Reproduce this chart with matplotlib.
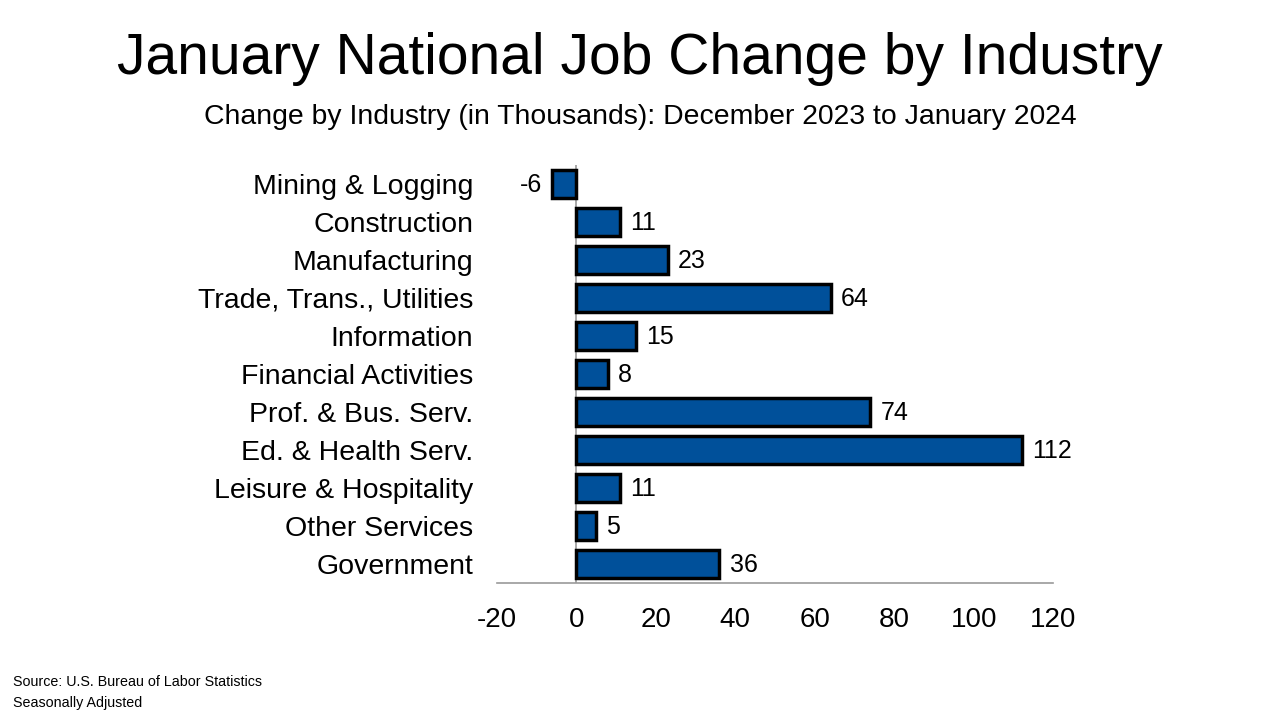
import matplotlib

matplotlib.use("Agg")

import matplotlib.pyplot as plt

industries = [
    "Mining & Logging",
    "Construction",
    "Manufacturing",
    "Trade, Trans., Utilities",
    "Information",
    "Financial Activities",
    "Prof. & Bus. Serv.",
    "Ed. & Health Serv.",
    "Leisure & Hospitality",
    "Other Services",
    "Government",
]
changes = [-6, 11, 23, 64, 15, 8, 74, 112, 11, 5, 36]
x_ticks = [-20, 0, 20, 40, 60, 80, 100, 120]

plt.rcParams["font.family"] = ["Liberation Sans", "DejaVu Sans"]

fig = plt.figure(figsize=(12.8, 7.2), dpi=100)
ax = fig.add_axes([0.388, 0.190, 0.435, 0.581])

y = list(range(len(industries)))
ax.barh(y, changes, height=0.75, color="#00509A", edgecolor="black", linewidth=2.5, zorder=3)
ax.axvline(0, color="#9a9a9a", linewidth=1.2, zorder=2)

# value labels beside each bar
for yi, v in zip(y, changes):
    if v < 0:
        ax.text(v - 2.6, yi + 0.03, f"{v}", ha="right", va="center", fontsize=18)
    else:
        ax.text(v + 2.6, yi + 0.03, f"{v}", ha="left", va="center", fontsize=18)

ax.set_xlim(-20, 120)
ax.set_ylim(len(industries) - 0.5, -0.5)
ax.set_xticks(x_ticks)
ax.set_xticklabels([str(t) for t in x_ticks], fontsize=20)
ax.set_yticks(y)
ax.set_yticklabels(industries, fontsize=20.5)
ax.tick_params(axis="both", length=0)
ax.tick_params(axis="x", pad=17)
ax.tick_params(axis="y", pad=17)

for side in ["top", "right", "left"]:
    ax.spines[side].set_visible(False)
ax.spines["bottom"].set_color("#9a9a9a")
ax.spines["bottom"].set_linewidth(1.2)

fig.text(0.5, 0.918, "January National Job Change by Industry", ha="center", va="center", fontsize=41)
fig.text(0.5, 0.838, "Change by Industry (in Thousands): December 2023 to January 2024",
         ha="center", va="center", fontsize=20.4)
fig.text(0.01, 0.053, "Source: U.S. Bureau of Labor Statistics", ha="left", va="center", fontsize=10.3)
fig.text(0.01, 0.024, "Seasonally Adjusted", ha="left", va="center", fontsize=10.3)

fig.savefig("out.png", dpi=100)
plt.close(fig)
